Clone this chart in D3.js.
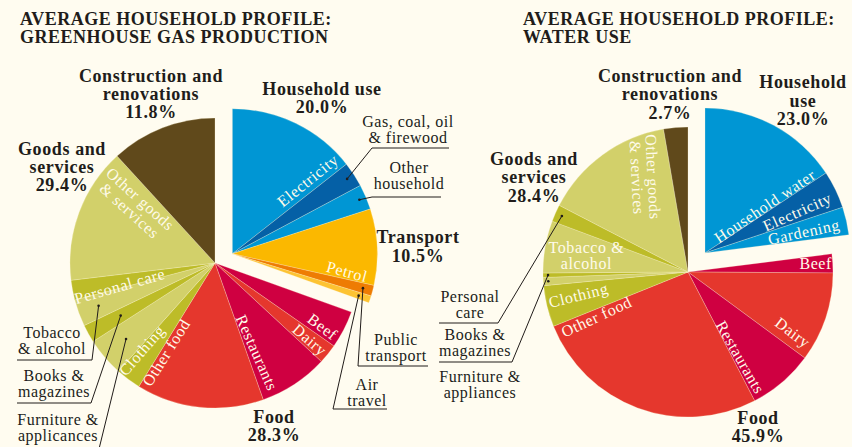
<!DOCTYPE html>
<html>
<head>
<meta charset="utf-8">
<script src="https://cdn.jsdelivr.net/npm/d3@7"></script>
<style>
  html, body { margin: 0; padding: 0; background: #fffcf0; }
  svg { display: block; font-family: "Liberation Serif", "DejaVu Serif", serif; }
</style>
</head>
<body>
<div id="chart"></div>
<script>
// ---- data ----
const groupNames = ["Household use", "Transport", "Food", "Goods and services", "Construction and renovations"];

// greenhouse gas production
const ghgGroupPct = [20.0, 10.5, 28.3, 29.4, 11.8];
const ghgItems = ["Electricity", "Gas, coal, oil & firewood", "Other household",
  "Petrol", "Public transport", "Air travel",
  "Beef", "Dairy", "Restaurants", "Other food",
  "Clothing", "Furniture & appliances", "Books & magazines", "Tobacco & alcohol", "Personal care", "Other goods & services",
  "Construction and renovations"];
const ghgItemGroup = [0, 0, 0, 1, 1, 1, 2, 2, 2, 2, 3, 3, 3, 3, 3, 3, 4];
const ghgItemPct = [14.4, 2.8, 2.8, 8.5, 1.2, 0.8, 4.2, 2.2, 7.7, 14.2, 2.8, 4.3, 2.0, 3.0, 2.2, 15.1, 11.8];

// water use
const waterGroupPct = [23.0, 0, 45.9, 28.4, 2.7];
const waterItems = ["Household water", "Electricity", "Gardening",
  "Beef", "Dairy", "Restaurants", "Other food",
  "Clothing", "Furniture & appliances", "Books & magazines", "Tobacco & alcohol", "Personal care", "Other goods & services",
  "Construction and renovations"];
const waterItemGroup = [0, 0, 0, 2, 2, 2, 2, 3, 3, 3, 3, 3, 3, 4];
const waterItemPct = [15.7, 4.2, 3.1, 2.1, 10.0, 7.3, 26.5, 4.6, 0.9, 0.5, 5.8, 1.9, 14.7, 2.7];

// ---- styles ----
const C = {
  blue: "#0096d4", navy: "#0560a6", petrol: "#fbb800", orange: "#ee7c03", air: "#fdc332",
  red: "#e5372d", crimson: "#cf0041", olive: "#d2d06a", oliveDark: "#bdbc28", brown: "#60491b"
};
const ghgColors = {
  "Electricity": C.blue, "Gas, coal, oil & firewood": C.navy, "Other household": C.blue,
  "Petrol": C.petrol, "Public transport": C.orange, "Air travel": C.air,
  "Beef": C.crimson, "Dairy": C.red, "Restaurants": C.crimson, "Other food": C.red,
  "Clothing": C.oliveDark, "Furniture & appliances": C.olive, "Books & magazines": C.oliveDark,
  "Tobacco & alcohol": C.olive, "Personal care": C.oliveDark, "Other goods & services": C.olive,
  "Construction and renovations": C.brown
};
const waterColors = Object.assign({}, ghgColors, {
  "Household water": C.blue, "Electricity": C.navy, "Gardening": C.blue
});

const width = 852, height = 447, R = 145;
const ink = "#211c1a", paper = "#fffbea";

const svg = d3.select("#chart").append("svg")
  .attr("width", width).attr("height", height)
  .attr("viewBox", [0, 0, width, height]);

svg.append("rect").attr("width", width).attr("height", height).attr("fill", "#fffcf0");

const rad = a => a * Math.PI / 180;
const polar = (a, r) => [r * Math.sin(rad(a)), -r * Math.cos(rad(a))];

function drawPie(cfg) {
  const items = cfg.items.map((name, i) => ({name, group: cfg.itemGroup[i], pct: cfg.itemPct[i]}));
  const arcs = d3.pie().sort(null).value(d => d.pct)(items);
  const arc = d3.arc().innerRadius(0).outerRadius(R);
  const shift = d => cfg.explode.groups.includes(d.data.group) ? polar(cfg.explode.dir, cfg.explode.dist) : [0, 0];

  const g = svg.append("g").attr("transform", `translate(${cfg.cx},${cfg.cy})`);

  g.selectAll("path.slice")
    .data(arcs)
    .join("path")
      .attr("class", "slice")
      .attr("transform", d => `translate(${shift(d)})`)
      .attr("d", arc)
      .attr("fill", d => cfg.colors[d.data.name])
      .attr("stroke", "#fff6d8")
      .attr("stroke-opacity", 0.5)
      .attr("stroke-width", 0.5);

  // white labels inside slices
  cfg.inner.forEach(l => {
    const d = arcs.find(a => a.data.name === l.name);
    const [sx, sy] = shift(d);
    const [px, py] = polar(l.a, l.r);
    const t = g.append("text")
      .attr("transform", `translate(${sx + px},${sy + py}) rotate(${l.rot})`)
      .attr("text-anchor", "middle")
      .attr("fill", paper)
      .attr("font-size", 16)
      .attr("letter-spacing", 0.6);
    const lines = l.lines || [l.name];
    lines.forEach((s, i) => t.append("tspan")
      .attr("x", 0)
      .attr("y", (i - (lines.length - 1) / 2) * 16 + 5.5)
      .text(s));
  });

  // leader lines from outside labels
  cfg.leaders.forEach(l => {
    const d = arcs.find(a => a.data.name === l.name);
    const [sx, sy] = shift(d);
    const [ex, ey] = d3.arc().innerRadius(l.r).outerRadius(l.r).centroid(d);
    const p = d3.path();
    if (l.line) {
      p.moveTo(l.line[0] - cfg.cx, l.line[2] - cfg.cy);
      p.lineTo(l.line[1] - cfg.cx, l.line[2] - cfg.cy);
    }
    p.moveTo(l.from[0] - cfg.cx, l.from[1] - cfg.cy);
    p.lineTo(ex + sx, ey + sy);
    g.append("path").attr("d", p.toString())
      .attr("fill", "none").attr("stroke", ink).attr("stroke-width", 1);
    g.append("circle").attr("cx", ex + sx).attr("cy", ey + sy).attr("r", 1.3).attr("fill", ink);
  });
  if (cfg.dots) cfg.dots.forEach(l => {
    const d = arcs.find(a => a.data.name === l.name);
    const [ex, ey] = d3.arc().innerRadius(l.r).outerRadius(l.r).centroid(d);
    g.append("circle").attr("cx", ex).attr("cy", ey).attr("r", 1.3).attr("fill", ink);
  });

  // group labels (bold, with percentage)
  cfg.groupLabels.forEach(l => {
    const lines = l.lines.concat(`${cfg.groupPct[l.group].toFixed(1)}%`);
    lines.forEach((s, i) => svg.append("text")
      .attr("x", l.x).attr("y", l.y[i])
      .attr("text-anchor", "middle")
      .attr("font-weight", "bold").attr("font-size", 18).attr("letter-spacing", 0.6)
      .attr("fill", ink)
      .text(s));
  });

  // small outside labels
  cfg.notes.forEach(l => {
    l.lines.forEach((s, i) => svg.append("text")
      .attr("x", l.x).attr("y", l.y + i * 15.5)
      .attr("text-anchor", "middle")
      .attr("font-size", 16).attr("letter-spacing", 0.5)
      .attr("fill", ink)
      .text(s));
  });

  // title
  cfg.title.forEach((s, i) => svg.append("text")
    .attr("x", cfg.titleX).attr("y", 25 + i * 18)
    .attr("font-weight", "bold").attr("font-size", 18).attr("letter-spacing", 0.5)
    .attr("fill", ink)
    .text(s));
}

drawPie({
  title: ["AVERAGE HOUSEHOLD PROFILE:", "GREENHOUSE GAS PRODUCTION"], titleX: 20,
  cx: 215, cy: 263,
  items: ghgItems, itemGroup: ghgItemGroup, itemPct: ghgItemPct, groupPct: ghgGroupPct,
  colors: ghgColors,
  explode: {groups: [0, 1], dir: 62, dist: 19.7},
  inner: [
    {name: "Electricity", a: 45.8, r: 105, rot: -39},
    {name: "Petrol", a: 98.9, r: 116, rot: 15},
    {name: "Beef", a: 120.6, r: 125, rot: 37},
    {name: "Dairy", a: 129, r: 122, rot: 41},
    {name: "Restaurants", a: 155, r: 99, rot: 66},
    {name: "Other food", a: 208.6, r: 102, rot: -58},
    {name: "Clothing", a: 220, r: 114, rot: -49},
    {name: "Personal care", a: 256.4, r: 98, rot: -16},
    {name: "Other goods & services", a: 306, r: 99, rot: 42, lines: ["Other goods", "& services"]}
  ],
  leaders: [
    {name: "Gas, coal, oil & firewood", r: 137, from: [372, 148], line: [372, 449, 148]},
    {name: "Other household", r: 138, from: [372, 197], line: [372, 441, 197]},
    {name: "Public transport", r: 135, from: [358, 366], line: [358, 428, 366]},
    {name: "Air travel", r: 133, from: [333, 409], line: [333, 387, 409]},
    {name: "Tobacco & alcohol", r: 124, from: [92, 360], line: [17, 92, 360]},
    {name: "Books & magazines", r: 108, from: [91, 403], line: [17, 91, 403]},
    {name: "Furniture & appliances", r: 117, from: [99, 449]}
  ],
  groupLabels: [
    {group: 4, lines: ["Construction and", "renovations"], x: 151, y: [82, 100, 118]},
    {group: 0, lines: ["Household use"], x: 322, y: [95, 113]},
    {group: 3, lines: ["Goods and", "services"], x: 62, y: [155, 173, 191]},
    {group: 1, lines: ["Transport"], x: 418, y: [243, 262]},
    {group: 2, lines: ["Food"], x: 274, y: [423, 441]}
  ],
  notes: [
    {lines: ["Gas, coal, oil", "& firewood"], x: 408, y: 127},
    {lines: ["Other", "household"], x: 409, y: 173},
    {lines: ["Public", "transport"], x: 396, y: 345},
    {lines: ["Air", "travel"], x: 367, y: 390},
    {lines: ["Tobacco", "& alcohol"], x: 52, y: 338},
    {lines: ["Books &", "magazines"], x: 54, y: 381},
    {lines: ["Furniture &", "applicances"], x: 58, y: 425}
  ]
});

drawPie({
  title: ["AVERAGE HOUSEHOLD PROFILE:", "WATER USE"], titleX: 523,
  cx: 688, cy: 272,
  items: waterItems, itemGroup: waterItemGroup, itemPct: waterItemPct, groupPct: waterGroupPct,
  colors: waterColors,
  explode: {groups: [0], dir: 41.8, dist: 25.5},
  inner: [
    {name: "Household water", a: 52, r: 76, rot: -34},
    {name: "Electricity", a: 66, r: 101, rot: -24},
    {name: "Gardening", a: 78, r: 101, rot: -12},
    {name: "Beef", a: 86, r: 128, rot: 0},
    {name: "Dairy", a: 120, r: 121, rot: 37},
    {name: "Restaurants", a: 148.5, r: 100, rot: 60},
    {name: "Other food", a: 243.9, r: 102, rot: -25},
    {name: "Clothing", a: 258, r: 112, rot: -14},
    {name: "Tobacco & alcohol", a: 279.5, r: 103, rot: 0, lines: ["Tobacco &", "alcohol"]},
    {name: "Other goods & services", a: 335.6, r: 104, rot: 87, lines: ["Other goods", "& services"]}
  ],
  leaders: [
    {name: "Personal care", r: 138, from: [498, 323], line: [439, 498, 323]},
    {name: "Books & magazines", r: 140, from: [512, 362], line: [439, 512, 362]}
  ],
  dots: [{name: "Furniture & appliances", r: 140}],
  groupLabels: [
    {group: 4, lines: ["Construction and", "renovations"], x: 670, y: [82, 100, 119]},
    {group: 0, lines: ["Household", "use"], x: 803, y: [88, 107, 125]},
    {group: 3, lines: ["Goods and", "services"], x: 534, y: [165, 183, 202]},
    {group: 2, lines: ["Food"], x: 758, y: [424, 442]}
  ],
  notes: [
    {lines: ["Personal", "care"], x: 470, y: 302},
    {lines: ["Books &", "magazines"], x: 475, y: 340},
    {lines: ["Furniture &", "appliances"], x: 480, y: 382}
  ]
});
</script>
</body>
</html>
